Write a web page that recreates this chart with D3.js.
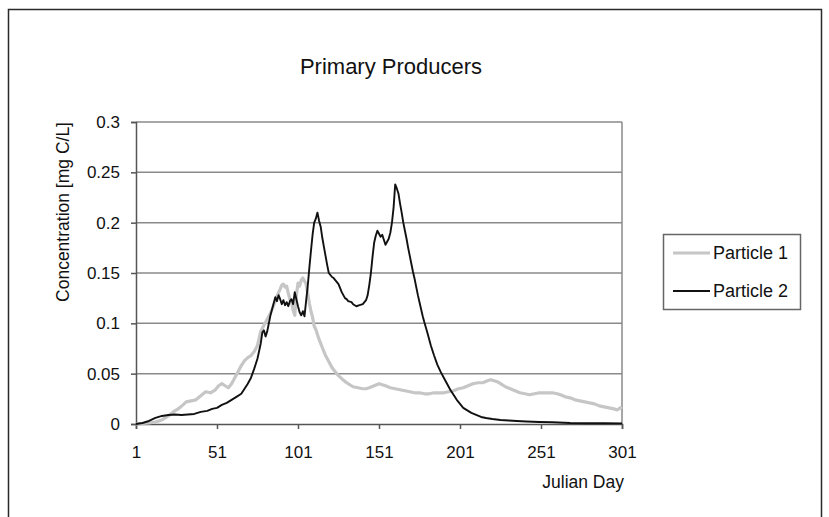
<!DOCTYPE html>
<html>
<head>
<meta charset="utf-8">
<script src="https://cdn.jsdelivr.net/npm/d3@7"></script>
<style>
  html, body { margin: 0; padding: 0; background: #fff; }
  svg { display: block; }
  text { font-family: "Liberation Sans", Arial, sans-serif; fill: #111; }
</style>
</head>
<body>
<svg id="chart" width="829" height="517"></svg>
<script>
// Julian days and concentrations (mg C/L) for each particle
const days1 = [1,5,9,13,17,21,24,27,30,32,35,38,41,44,47,50,52,54,56,58,60,62,64,66,68,70,72,74,76,78,80,82,84,86,88,90,91,92,93,94,95,96,97,98,99,100,101,102,103,104,105,106,107,108,109,110,111,112,114,116,118,120,122,124,126,128,131,133,135,138,141,143,145,148,151,153,155,158,161,164,167,170,173,176,179,182,185,188,191,194,197,200,203,206,209,212,215,218,220,222,224,226,229,232,235,238,241,244,247,250,254,258,261,263,266,269,272,275,278,281,284,287,290,293,296,298,300,301];
const particle1 = [0,0.0005,0.001,0.002,0.004,0.008,0.012,0.015,0.019,0.022,0.023,0.024,0.028,0.032,0.031,0.034,0.038,0.040,0.038,0.036,0.040,0.046,0.052,0.058,0.063,0.066,0.068,0.072,0.078,0.092,0.098,0.104,0.110,0.118,0.127,0.134,0.138,0.139,0.136,0.137,0.130,0.124,0.121,0.113,0.108,0.128,0.140,0.137,0.143,0.145,0.142,0.139,0.130,0.120,0.112,0.106,0.097,0.094,0.084,0.076,0.068,0.062,0.056,0.052,0.048,0.045,0.041,0.039,0.037,0.036,0.035,0.035,0.036,0.038,0.040,0.039,0.038,0.036,0.035,0.034,0.033,0.032,0.031,0.031,0.030,0.030,0.031,0.031,0.031,0.032,0.033,0.035,0.036,0.038,0.040,0.041,0.041,0.043,0.044,0.043,0.042,0.040,0.037,0.035,0.033,0.031,0.030,0.029,0.030,0.031,0.031,0.031,0.030,0.029,0.027,0.026,0.024,0.023,0.022,0.021,0.020,0.018,0.017,0.016,0.015,0.014,0.016,0.017];

const days2 = [1,5,9,13,17,21,25,29,33,37,41,45,48,51,54,57,60,63,66,68,70,72,74,76,78,79,80,81,82,83,84,85,86,87,88,89,90,91,92,93,94,95,96,97,98,99,100,101,102,103,104,105,106,107,108,109,110,111,112,113,114,115,116,117,118,119,120,121,122,123,124,125,126,127,128,129,130,131,132,134,135,137,139,141,143,144,145,146,147,148,149,150,151,152,153,154,155,156,157,158,159,160,161,162,163,164,165,166,167,168,169,170,171,172,173,174,175,176,177,178,179,181,183,185,187,189,191,193,195,197,199,201,203,205,208,211,214,217,221,226,231,236,242,250,258,269,280,290,301];
const particle2 = [0,0.001,0.003,0.006,0.008,0.009,0.0095,0.009,0.0095,0.010,0.012,0.013,0.015,0.016,0.019,0.021,0.024,0.027,0.030,0.035,0.040,0.046,0.055,0.065,0.080,0.091,0.093,0.087,0.092,0.100,0.108,0.114,0.120,0.126,0.122,0.128,0.124,0.119,0.123,0.118,0.121,0.117,0.122,0.124,0.119,0.131,0.124,0.117,0.111,0.108,0.112,0.107,0.122,0.137,0.155,0.172,0.188,0.200,0.204,0.210,0.202,0.196,0.185,0.176,0.167,0.158,0.150,0.148,0.146,0.145,0.143,0.141,0.139,0.135,0.131,0.128,0.125,0.124,0.122,0.121,0.119,0.117,0.118,0.119,0.123,0.128,0.138,0.150,0.166,0.180,0.187,0.192,0.189,0.186,0.188,0.183,0.178,0.181,0.184,0.190,0.200,0.215,0.238,0.234,0.229,0.219,0.210,0.200,0.192,0.184,0.175,0.167,0.159,0.151,0.144,0.136,0.128,0.121,0.114,0.107,0.101,0.090,0.078,0.068,0.059,0.052,0.046,0.040,0.034,0.029,0.024,0.020,0.016,0.014,0.011,0.009,0.007,0.006,0.005,0.004,0.0035,0.003,0.0025,0.002,0.0017,0.001,0.0008,0.0007,0.0006];

const xTicks = [1, 51, 101, 151, 201, 251, 301];
const yTicks = [0, 0.05, 0.1, 0.15, 0.2, 0.25, 0.3];
const seriesNames = ["Particle 1", "Particle 2"];

const svg = d3.select("#chart");
const FONT = "'Liberation Sans', Arial, sans-serif";

// outer chart frame (open at the bottom)
svg.append("path")
  .attr("d", "M8.5,520 V9.5 H821.5 V520")
  .attr("fill", "none").attr("stroke", "#2a2a2a").attr("stroke-width", 1.5);

const plot = { left: 136, right: 622, top: 122, bottom: 424 };
const x = d3.scaleLinear().domain([1, 301]).range([plot.left, plot.right]);
const y = d3.scaleLinear().domain([0, 0.3]).range([plot.bottom, plot.top]);

// horizontal gridlines
svg.append("g").selectAll("line").data(yTicks.filter(d => d > 0)).join("line")
  .attr("x1", plot.left).attr("x2", plot.right)
  .attr("y1", d => y(d)).attr("y2", d => y(d))
  .attr("stroke", "#8a8a8a").attr("stroke-width", 1.5);

// right edge of the plot area
svg.append("line")
  .attr("x1", plot.right).attr("x2", plot.right)
  .attr("y1", plot.top).attr("y2", plot.bottom)
  .attr("stroke", "#8a8a8a").attr("stroke-width", 1.5);

// y axis
const yAxis = svg.append("g")
  .attr("transform", `translate(${plot.left},0)`)
  .call(d3.axisLeft(y).tickValues(yTicks).tickSize(5).tickPadding(11)
    .tickFormat(d => d === 0 ? "0" : String(+d.toFixed(2))));
yAxis.select(".domain").attr("stroke", "#555").attr("stroke-width", 1.5);
yAxis.selectAll(".tick line").attr("stroke", "#555").attr("stroke-width", 1.5);
yAxis.selectAll(".tick text").attr("font-size", 17).attr("fill", "#111")
  .attr("font-family", FONT);

// x axis
const xAxis = svg.append("g")
  .attr("transform", `translate(0,${plot.bottom})`)
  .call(d3.axisBottom(x).tickValues(xTicks).tickSize(5).tickPadding(17)
    .tickFormat(d3.format("d")));
xAxis.select(".domain").attr("stroke", "#555").attr("stroke-width", 1.5);
xAxis.selectAll(".tick line").attr("stroke", "#555").attr("stroke-width", 1.5);
xAxis.selectAll(".tick text").attr("font-size", 17).attr("fill", "#111")
  .attr("font-family", FONT);

// series lines
const line = d3.line().x(d => x(d[0])).y(d => y(d[1]));
const p1 = days1.map((d, i) => [d, particle1[i]]);
const p2 = days2.map((d, i) => [d, particle2[i]]);

svg.append("path").datum(p1).attr("d", line)
  .attr("fill", "none").attr("stroke", "#c6c6c6").attr("stroke-width", 3.2)
  .attr("stroke-linejoin", "round");
svg.append("path").datum(p2).attr("d", line)
  .attr("fill", "none").attr("stroke", "#111").attr("stroke-width", 1.9)
  .attr("stroke-linejoin", "round");

// titles
svg.append("text").attr("x", 391).attr("y", 74).attr("text-anchor", "middle")
  .attr("font-size", 22).text("Primary Producers");
svg.append("text").attr("x", 624).attr("y", 488).attr("text-anchor", "end")
  .attr("font-size", 17.5).text("Julian Day");
svg.append("text")
  .attr("transform", "translate(69,212) rotate(-90)")
  .attr("text-anchor", "middle").attr("font-size", 17.5)
  .text("Concentration [mg C/L]");

// legend
const legend = svg.append("g");
legend.append("rect").attr("x", 663.5).attr("y", 234.5).attr("width", 137).attr("height", 75)
  .attr("fill", "#fff").attr("stroke", "#666").attr("stroke-width", 1.5);
const legendStyle = [
  { stroke: "#c6c6c6", width: 3.2, cy: 253 },
  { stroke: "#111", width: 1.9, cy: 291 }
];
seriesNames.forEach((name, i) => {
  const s = legendStyle[i];
  legend.append("line").attr("x1", 673).attr("x2", 710).attr("y1", s.cy).attr("y2", s.cy)
    .attr("stroke", s.stroke).attr("stroke-width", s.width);
  legend.append("text").attr("x", 713).attr("y", s.cy + 6).attr("font-size", 18).text(name);
});
</script>
</body>
</html>
